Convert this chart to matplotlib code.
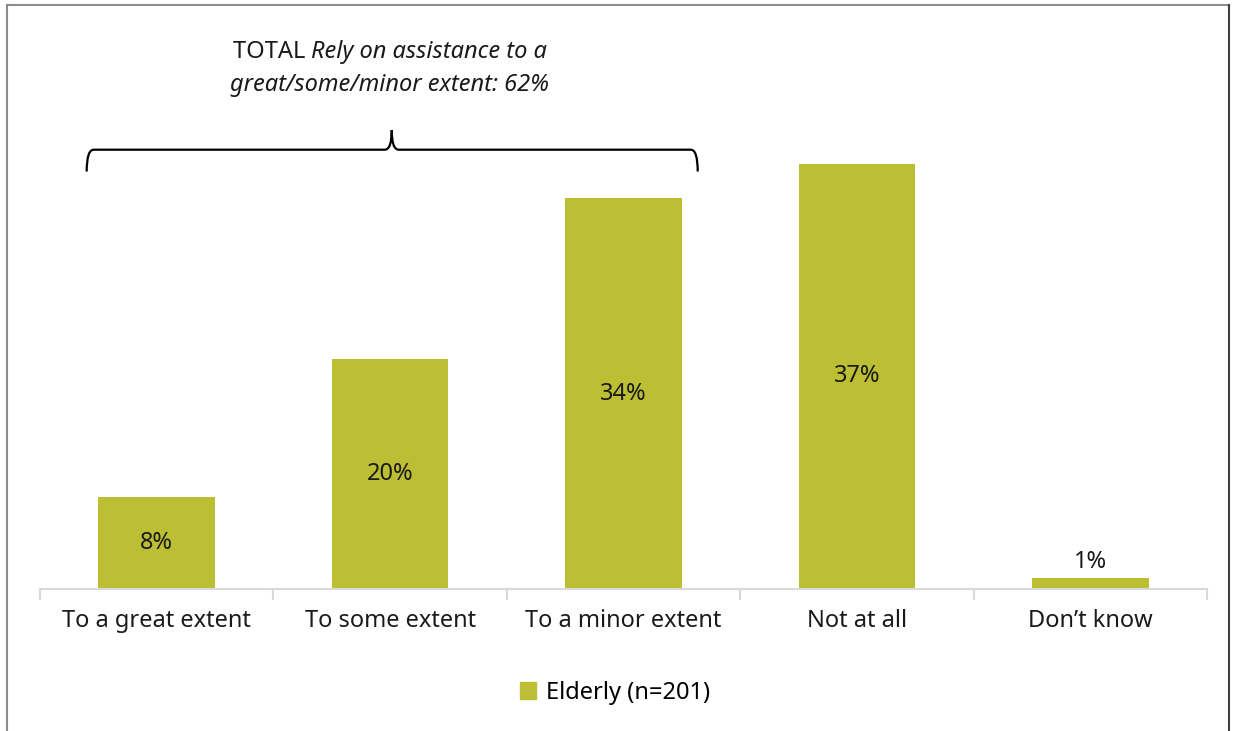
import matplotlib.pyplot as plt
from matplotlib.path import Path
from matplotlib.patches import PathPatch
from matplotlib.lines import Line2D

# --- data ---
categories = ["To a great extent", "To some extent", "To a minor extent", "Not at all", "Don\u2019t know"]
values = [8, 20, 34, 37, 1]
series_name = "Elderly (n=201)"
bar_color = "#BCBF33"

plt.rcParams["font.family"] = ["Noto Sans", "DejaVu Sans"]
FS = 17

fig = plt.figure(figsize=(12.33, 7.31), dpi=100)
ax = fig.add_axes([40 / 1233, 1 - 589 / 731, 1167 / 1233, 460 / 731])

x = list(range(len(categories)))
bars = ax.bar(x, values, width=0.5, color=bar_color, zorder=2)
ax.set_xlim(-0.5, len(categories) - 0.5)
ax.set_ylim(0, 40)

# value labels: centered in bar, above for tiny bars
for xi, v in zip(x, values):
    if v >= 5:
        ax.text(xi, v / 2, f"{v}%", ha="center", va="center", fontsize=FS, color="#1a1a1a")
    else:
        ax.text(xi, v + 0.3, f"{v}%", ha="center", va="bottom", fontsize=FS, color="#1a1a1a")

# axes styling
for s in ["top", "right", "left"]:
    ax.spines[s].set_visible(False)
ax.spines["bottom"].set_color("#d9d9d9")
ax.spines["bottom"].set_linewidth(1.5)
ax.set_yticks([])
ax.set_xticks([i - 0.5 for i in range(len(categories) + 1)])
ax.set_xticklabels([])
ax.tick_params(axis="x", length=8, width=1.5, color="#d9d9d9")
for xi, c in zip(x, categories):
    ax.text(xi, -2.75, c, ha="center", va="center", fontsize=FS, color="#1a1a1a")

# brace over first three categories
x0, x1, xm = -0.30, 2.318, 1.007
yb, ye, yt = 38.2, 36.3, 39.9
r = 0.03
verts = [
    (x0, ye), (x0, yb), (x0 + r, yb),
    (xm - r, yb), (xm, yb), (xm, yt),
    (xm, yb), (xm + r, yb),
    (x1 - r, yb), (x1, yb), (x1, ye),
]
codes = [Path.MOVETO, Path.CURVE3, Path.CURVE3,
         Path.LINETO, Path.CURVE3, Path.CURVE3,
         Path.CURVE3, Path.CURVE3,
         Path.LINETO, Path.CURVE3, Path.CURVE3]
ax.add_patch(PathPatch(Path(verts, codes), facecolor="none", edgecolor="black",
                       linewidth=1.6, clip_on=False))

# annotation text: "TOTAL" upright, rest italic
ty1 = 1 - 52 / 731
ty2 = 1 - 85 / 731
t1 = fig.text(0, ty1, "TOTAL ", fontsize=FS, va="center", color="#1a1a1a")
t2 = fig.text(0, ty1, "Rely on assistance to a", fontsize=FS, style="italic", va="center", color="#1a1a1a")
fig.canvas.draw()
rend = fig.canvas.get_renderer()
w1 = t1.get_window_extent(rend).width
w2 = t2.get_window_extent(rend).width
start = 390 - (w1 + w2) / 2
t1.set_x(start / 1233)
t2.set_x((start + w1) / 1233)
fig.text(390 / 1233, ty2, "great/some/minor extent: 62%", fontsize=FS, style="italic",
         ha="center", va="center", color="#1a1a1a")

# legend
handle = plt.Rectangle((0, 0), 1, 1, color=bar_color)
fig.legend([handle], [series_name], loc="center", bbox_to_anchor=(615 / 1233, 1 - 693 / 731),
           frameon=False, fontsize=FS, handlelength=0.7, handleheight=0.7, handletextpad=0.4)

# outer border
fig.add_artist(Line2D([7 / 1233, 7 / 1233], [0, 1 - 5 / 731], color="#8c8c8c", linewidth=1.5))
fig.add_artist(Line2D([7 / 1233, 1229 / 1233], [1 - 5 / 731, 1 - 5 / 731], color="#8c8c8c", linewidth=1.5))
fig.add_artist(Line2D([1229 / 1233, 1229 / 1233], [0, 1 - 5 / 731], color="#404040", linewidth=1.5))

fig.savefig("out.png", dpi=100, facecolor="white")
